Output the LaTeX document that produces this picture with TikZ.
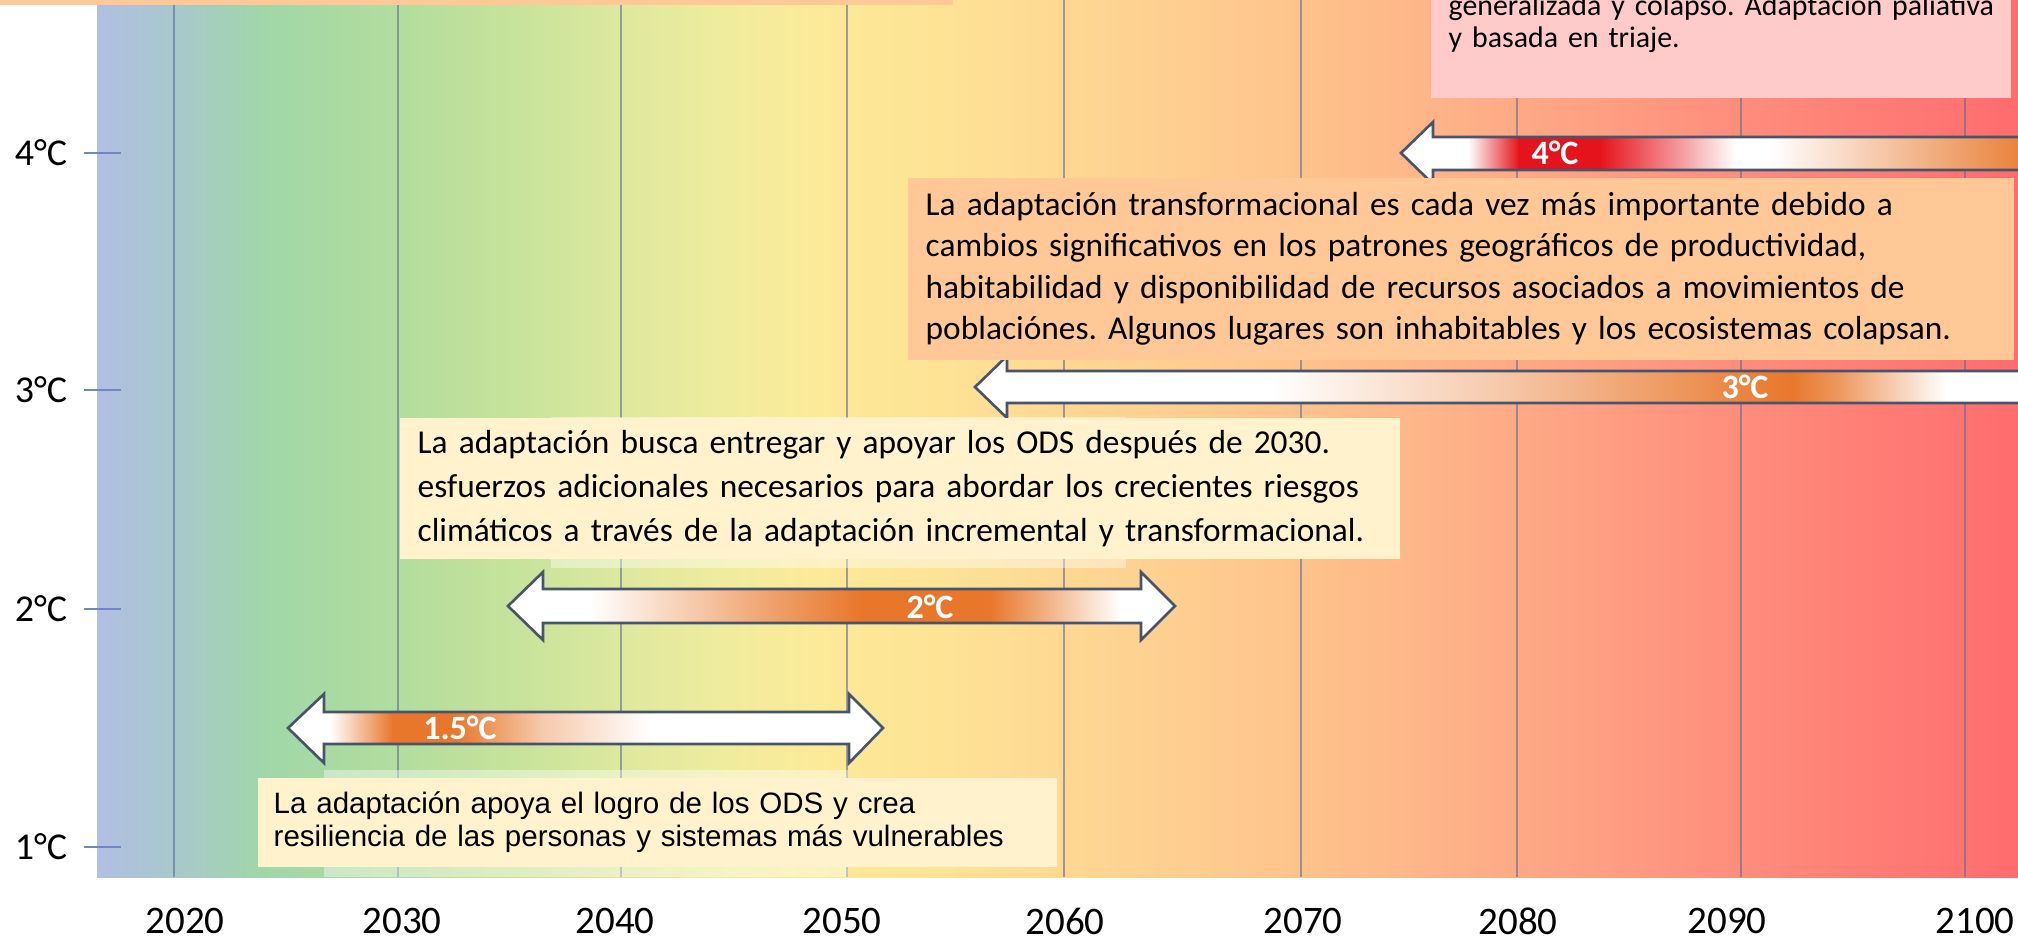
\documentclass[tikz,border=0pt]{standalone}
\usepackage{fontspec}
\setmainfont{Carlito}
\newfontfamily\arialfont{Liberation Sans}
\usepackage{tikz}
\usetikzlibrary{positioning}

% background stops, left to right
\definecolor{bgA}{HTML}{B0BFE3}
\definecolor{bgB}{HTML}{A8C8CC}
\definecolor{bgC}{HTML}{A0D6AA}
\definecolor{bgD}{HTML}{A8DAA2}
\definecolor{bgE}{HTML}{B6DE9C}
\definecolor{bgF}{HTML}{C8E39B}
\definecolor{bgG}{HTML}{DDE89E}
\definecolor{bgH}{HTML}{EFEC9E}
\definecolor{bgI}{HTML}{FCEA98}
\definecolor{bgJ}{HTML}{FEE295}
\definecolor{bgK}{HTML}{FED592}
\definecolor{bgL}{HTML}{FEC88E}
\definecolor{bgM}{HTML}{FEB889}
\definecolor{bgN}{HTML}{FEA584}
\definecolor{bgO}{HTML}{FE927E}
\definecolor{bgP}{HTML}{FF8076}
\definecolor{bgQ}{HTML}{FF6C6E}

\definecolor{gridBlue}{HTML}{5A6E96}
\definecolor{tickBlue}{HTML}{6F88BE}
\definecolor{arrowEdge}{HTML}{46546C}
\definecolor{orA}{HTML}{E8772B}
\definecolor{redA}{HTML}{E5141C}
\definecolor{peachFill}{HTML}{FFC896}
\definecolor{pinkFill}{HTML}{FFCACA}
\definecolor{creamFill}{HTML}{FFF2CC}

\begin{document}
\frenchspacing
\begin{tikzpicture}[
    x=0.1mm, y=-0.1mm,
    every node/.style={inner sep=0pt},
    gridline/.style={draw=gridBlue, line width=0.45pt, opacity=0.6},
    tickline/.style={draw=tickBlue, line width=0.5pt},
    templabel/.style={font=\fontsize{10.8}{12}\selectfont},
    yearlabel/.style={font=\fontsize{11.1}{13}\selectfont},
    arrowline/.style={draw=arrowEdge, line width=0.75pt, line join=miter},
    arrowtext/.style={text=white, font=\bfseries\fontsize{9.7}{11}\selectfont},
    textbox/.style={anchor=north west, align=left, inner xsep=1.8mm, inner ysep=0pt,
        font=\fontsize{9.5}{11.75}\selectfont}
]
    \useasboundingbox (0,0) rectangle (2018,945);

    % 1. Background band
    \foreach \xa/\xb/\ca/\cb in {97/174/bgA/bgB, 174/260/bgB/bgC, 260/330/bgC/bgD,
        330/420/bgD/bgE, 420/520/bgE/bgF, 520/620/bgF/bgG, 620/720/bgG/bgH,
        720/820/bgH/bgI, 820/950/bgI/bgJ, 950/1100/bgJ/bgK, 1100/1250/bgK/bgL,
        1250/1400/bgL/bgM, 1400/1550/bgM/bgN, 1550/1700/bgN/bgO,
        1700/1850/bgO/bgP, 1850/2018/bgP/bgQ}
        \shade[left color=\ca, right color=\cb] (\xa,0) rectangle ({\xb+1},877);

    % 2. Decade lines and years
    \foreach \xx in {174,398,621,847,1064,1301,1517,1741,1965}
        \draw[gridline] (\xx,0) -- (\xx,877);
    \foreach \yr/\xx in {2020/185, 2030/402, 2040/615, 2050/842, 2060/1065,
        2070/1303, 2080/1518, 2090/1727, 2100/1975}
        \node[yearlabel] (y\yr) at (\xx,921) {\yr};

    % 3. Temperature axis
    \foreach \lvl/\yy in {4/153, 3/390, 2/609, 1/847} {
        \node[templabel] (temp\lvl) at (41,\yy) {\lvl°C};
        \draw[tickline] (84,\yy) -- (121,\yy);
    }

    % faint panels left behind the boxes
    \fill[white, opacity=0.4] (551,417) rectangle (1126,568);
    \fill[white, opacity=0.4] (324,770) rectangle (848,877);

    % 4. Arrows
    % 4°C (runs off the right edge)
    \fill[white] (1401,153) -- (1433,122) -- (1433,137) -- (2040,137)
        -- (2040,170) -- (1433,170) -- (1433,184) -- cycle;
    \foreach \xa/\xb/\ca/\cb in {1468/1518/white/redA, 1518/1600/redA/redA,
        1600/1690/redA/redA!35!white, 1690/1735/redA!35!white/white,
        1770/2040/white/orA}
        \shade[left color=\ca, right color=\cb] (\xa,137) rectangle ({\xb+1},170);
    \draw[arrowline] (2040,137) -- (1433,137) -- (1433,122) -- (1401,153)
        -- (1433,184) -- (1433,170) -- (2040,170);

    % 3°C (runs off the right edge)
    \fill[white] (975,387) -- (1007,356) -- (1007,371) -- (2040,371)
        -- (2040,403) -- (1007,403) -- (1007,418) -- cycle;
    \foreach \xa/\xb/\ca/\cb in {1270/1500/white/orA!40!white,
        1500/1720/orA!40!white/orA!85!white, 1720/1790/orA!85!white/orA,
        1790/1840/orA/orA!75!white, 1840/1945/orA!75!white/white}
        \shade[left color=\ca, right color=\cb] (\xa,371) rectangle ({\xb+1},403);
    \draw[arrowline] (2040,371) -- (1007,371) -- (1007,356) -- (975,387)
        -- (1007,418) -- (1007,403) -- (2040,403);

    % 2°C
    \fill[white] (508,606) -- (543,572) -- (543,589) -- (1141,589) -- (1141,572)
        -- (1175,606) -- (1141,640) -- (1141,623) -- (543,623) -- (543,640) -- cycle;
    \foreach \xa/\xb/\ca/\cb in {590/760/white/orA!65!white, 760/860/orA!65!white/orA,
        860/990/orA/orA, 990/1120/orA/white}
        \shade[left color=\ca, right color=\cb] (\xa,589) rectangle ({\xb+1},623);
    \draw[arrowline] (508,606) -- (543,572) -- (543,589) -- (1141,589) -- (1141,572)
        -- (1175,606) -- (1141,640) -- (1141,623) -- (543,623) -- (543,640) -- cycle;

    % 1.5°C
    \fill[white] (288,728) -- (324,694) -- (324,712) -- (849,712) -- (849,694)
        -- (883,728) -- (849,763) -- (849,744) -- (324,744) -- (324,763) -- cycle;
    \foreach \xa/\xb/\ca/\cb in {330/392/white/orA, 392/455/orA/orA,
        455/540/orA/orA!40!white, 540/650/orA!40!white/white}
        \shade[left color=\ca, right color=\cb] (\xa,712) rectangle ({\xb+1},744);
    \draw[arrowline] (288,728) -- (324,694) -- (324,712) -- (849,712) -- (849,694)
        -- (883,728) -- (849,763) -- (849,744) -- (324,744) -- (324,763) -- cycle;

    \node[arrowtext] (lab4) at (1555,153) {4°C};
    \node[arrowtext] (lab3) at (1745,387) {3°C};
    \node[arrowtext] (lab2) at (930,607) {2°C};
    \node[arrowtext] (lab15) at (460,728) {1.5°C};

    % 5. Text boxes
    \fill[peachFill] (0,-10) rectangle (953,5);

    \node[textbox, fill=pinkFill, anchor=south west, text width=55.2mm, inner xsep=1.4mm,
        inner ysep=4.6mm, font=\fontsize{8.5}{9.1}\selectfont] (triaje) at (1430,99)
        {\hspace*{0.4mm}generalizada y colapso. Adaptación paliativa\\
         \hspace*{0.4mm}y basada en triaje.};

    \node[textbox, fill=peachFill, text width=107mm, minimum height=18.2mm] (trans) at (907,177)
        {La adaptación transformacional es cada vez más importante debido a\\
         cambios significativos en los patrones geográficos de productividad,\\
         habitabilidad y disponibilidad de recursos asociados a movimientos de\\
         poblaciónes. Algunos lugares son inhabitables y los ecosistemas colapsan.};

    \node[textbox, fill=creamFill, text width=96.4mm, minimum height=14.1mm,
        font=\fontsize{9.5}{12.5}\selectfont] (ods2030) at (399,417)
        {La adaptación busca entregar y apoyar los ODS después de 2030.\\
         esfuerzos adicionales necesarios para abordar los crecientes riesgos\\
         climáticos a través de la adaptación incremental y transformacional.};

    \node[textbox, fill=creamFill, text width=76.7mm, inner xsep=1.6mm, minimum height=8.9mm,
        font=\arialfont\fontsize{8.4}{9.4}\selectfont] (ods) at (257,777)
        {La adaptación apoya el logro de los ODS y crea\\
         resiliencia de las personas y sistemas más vulnerables};

\end{tikzpicture}
\end{document}
